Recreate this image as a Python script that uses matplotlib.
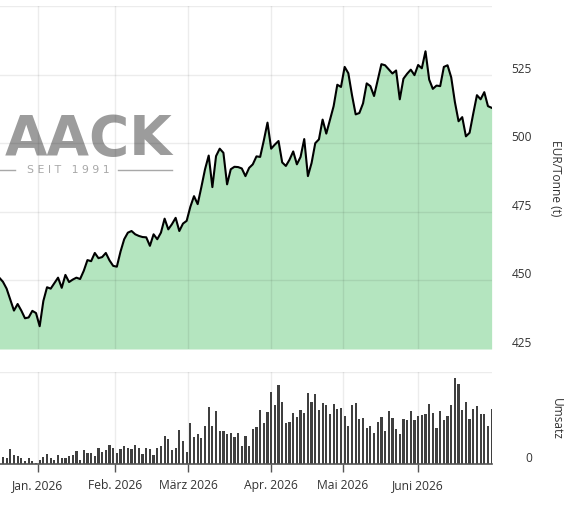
import matplotlib
matplotlib.use('Agg')
import matplotlib.pyplot as plt
from matplotlib.lines import Line2D
import numpy as np
import pandas as pd

# ---------------- data ----------------
holidays = ['2025-12-25', '2025-12-26', '2026-01-01', '2026-04-03', '2026-04-06', '2026-05-01']
start_date = '2025-12-15'
end_date = '2026-06-29'

price = [
    451, 449.5, 447, 443, 439, 441.4, 439, 436.2, 436.5, 438.9, 438.1,
    433.3, 442.5, 447.5, 447, 449, 451, 447.3, 452, 449.4, 450.3, 451, 450.5, 453.5,
    457.4, 457, 460, 458.1, 458.5, 460, 457.3, 455.3,
    455, 460.5, 465, 467.4, 468, 466.8, 466.2, 465.8, 465.7, 462.6, 466.8, 465,
    467.4, 472.5, 468.6, 470.5, 472.8, 468, 470.7, 471.7,
    476.8, 480.7, 477.8, 484, 490.5, 495.5, 484, 495.3, 498, 496.5, 485, 490.5,
    491.4, 491.3, 490.8, 488, 491, 492.3, 495.2, 495, 501, 507.5,
    498, 499.5, 500.8, 493, 491.7, 494, 497, 492.3, 495, 501.5, 488, 492.8,
    500, 501.4, 508.6, 503.5, 508.5, 513.5, 521.3, 520.5,
    527.8, 525.5, 517.5, 510.5, 511, 514.5, 521.8, 520.8, 517.2, 523, 528.8,
    528.4, 526.9, 525.4, 526.5, 516, 523.5, 525.3, 526.8, 524.8,
    528.5, 527.3, 533.5, 523.2, 519.8, 521, 520.8, 527.8, 528.4, 524, 515,
    508, 509.5, 502.5, 503.8, 510.8, 517.5, 516, 518.6, 513.5, 512.9,
]

umsatz = [
    5, 7.3, 5.7, 15, 9, 8.3, 5.7, 2.7, 5.7, 3.3, 0.8,
    4.3, 7.3, 9.7, 5.7, 4.3, 9, 6.3, 5.7, 8.3, 9, 12.7, 4.3, 14,
    11, 11, 7.7, 16.3, 12.3, 14, 19, 16.3,
    11, 15, 17.7, 16.3, 14.7, 18.7, 16.3, 9.7, 15.7, 15, 9, 16.3,
    18, 27.7, 25, 14.3, 16, 34.3, 23, 12.3,
    41.3, 26.7, 29.7, 26, 37.7, 57, 38.3, 53, 33, 33, 29.7, 30.7,
    27.3, 30.7, 18.3, 27.7, 18, 35.3, 36.7, 54, 41.3, 52,
    71.7, 59, 79.3, 61.7, 40.7, 42.3, 51.3, 47.3, 54, 51.3, 70.7, 62,
    69.7, 54, 60.7, 59, 50.5, 60, 55, 56,
    48.3, 38.3, 59, 61, 45, 46.3, 35.7, 38.3, 30.7, 41.7, 47.3,
    33.3, 53, 46.3, 34.7, 29.7, 45, 44.3, 52.7, 44,
    48, 49, 50.3, 59.7, 51.3, 35.7, 52.7, 44.3, 48, 59, 85.7,
    80.3, 54, 61.7, 45, 55, 57.7, 50.3, 50.3, 38.3, 55,
]

month_starts = ['2026-01-01', '2026-02-01', '2026-03-01', '2026-04-01', '2026-05-01', '2026-06-01']
month_labels = ['Jan. 2026', 'Feb. 2026', 'März 2026', 'Apr. 2026', 'Mai 2026', 'Juni 2026']
price_ticks = [425, 450, 475, 500, 525]
price_grid = [450, 475, 500, 525, 550]

# ---------------- trading calendar ----------------
dates = pd.bdate_range(start_date, end_date)
dates = dates[~dates.isin(pd.to_datetime(holidays))]
n = min(len(dates), len(price), len(umsatz))
x = np.arange(n)
price_arr = np.array(price[:n])
vol_arr = np.array(umsatz[:n])


def month_pos(d):
    d = pd.Timestamp(d)
    i = int(dates.searchsorted(d))
    return float(i) if dates[i] == d else i - 0.5


tick_pos = [month_pos(d) for d in month_starts]

# ---------------- figure ----------------
W, H = 574, 510
fig = plt.figure(figsize=(W / 100, H / 100), dpi=100)
font = ['Open Sans', 'DejaVu Sans']
plt.rcParams['font.family'] = font
label_color = '#333333'
grid_color = (0, 0, 0, 0.075)

axp = fig.add_axes([0, 160 / H, 492 / W, 343 / H])
axv = fig.add_axes([0, 45 / H, 492 / W, 92 / H])

xlim = (0.2, 134.1)

# price panel
axp.fill_between(x, price_arr, 425, color='#b4e5bf', lw=0, zorder=1)
axp.plot(x, price_arr, color='black', lw=1.5, zorder=4, solid_joinstyle='round')
for v in price_grid:
    axp.axhline(v, color=grid_color, lw=1, zorder=2)
for p in tick_pos:
    axp.axvline(p, color=grid_color, lw=1, zorder=2)
axp.set_xlim(*xlim)
axp.set_ylim(425, 550)
for s in axp.spines.values():
    s.set_visible(False)
axp.set_xticks([])
axp.yaxis.tick_right()
axp.set_yticks(price_ticks)
axp.set_yticklabels([str(v) for v in price_ticks])
axp.tick_params(axis='y', length=0, pad=28.8, labelsize=8.6, labelcolor=label_color)
for lab in axp.get_yticklabels():
    lab.set_horizontalalignment('right')
    lab.set_verticalalignment('bottom')

# watermark
axp.text(5 / W, 1 - 155 / H, 'AACK', transform=fig.transFigure, fontsize=39.5,
         fontweight='bold', color='#9c9c9c', family='DejaVu Sans',
         ha='left', va='baseline', zorder=1.5, clip_on=False)
axp.text(27 / W, 1 - 170.5 / H, 'S E I T   1 9 9 1', transform=fig.transFigure,
         fontsize=7.8, color='#a8a8a8', family='DejaVu Sans',
         ha='left', va='center', zorder=1.5, clip_on=False)
for (x0, x1) in [(0, 15), (118, 172)]:
    axp.add_line(Line2D([x0 / W, x1 / W], [1 - 170.5 / H, 1 - 170.5 / H],
                        transform=fig.transFigure, color='#a8a8a8', lw=1,
                        zorder=1.5, clip_on=False))

# volume panel
axv.bar(x, vol_arr, width=0.6, color='#3f3f3f', zorder=3)
axv.axhline(92, color=grid_color, lw=1, zorder=1)
for p in tick_pos:
    axv.axvline(p, color=grid_color, lw=1, zorder=1)
axv.set_xlim(*xlim)
axv.set_ylim(0, 92)
for k in ['top', 'left', 'right']:
    axv.spines[k].set_visible(False)
axv.spines['bottom'].set_color('#555555')
axv.spines['bottom'].set_linewidth(1.2)
axv.spines['bottom'].set_zorder(4)
axv.set_xticks(tick_pos)
axv.set_xticklabels(month_labels)
axv.tick_params(axis='x', direction='out', length=5.8, width=1, color='#555555',
                pad=4.5, labelsize=8.7, labelcolor=label_color)
axv.yaxis.tick_right()
axv.set_yticks([0])
axv.set_yticklabels(['0'])
axv.tick_params(axis='y', length=0, pad=28.8, labelsize=8.6, labelcolor=label_color)
for lab in axv.get_yticklabels():
    lab.set_horizontalalignment('right')
    lab.set_verticalalignment('bottom')

# axis titles
fig.text(556 / W, 1 - 178.5 / H, 'EUR/Tonne (t)', rotation=270, ha='center', va='center',
         fontsize=8.6, color=label_color)
fig.text(556 / W, 1 - 419 / H, 'Umsatz', rotation=270, ha='center', va='center',
         fontsize=8.6, color=label_color)

fig.savefig('out.png', dpi=100)
